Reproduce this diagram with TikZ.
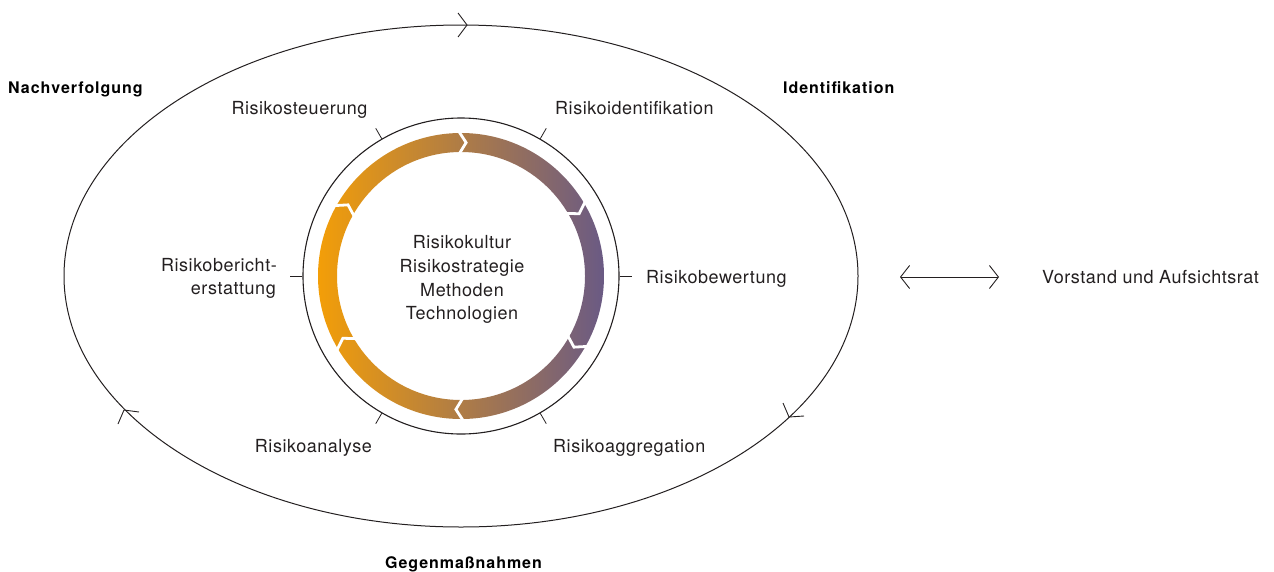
\documentclass[tikz,border=0pt]{standalone}
\usepackage{fontspec}
\usetikzlibrary{arrows.meta}
\setmainfont{TeX Gyre Heros}[LetterSpace=3]
\newfontfamily\boldlab{TeX Gyre Heros}[LetterSpace=6]
\definecolor{txt}{RGB}{35,31,32}
\definecolor{cL}{RGB}{243,158,8}
\definecolor{cM}{RGB}{170,118,104}
\definecolor{cR}{RGB}{106,90,132}
\begin{document}
\begin{tikzpicture}[x=1pt,y=-1pt,
  lbl/.style={font=\fontsize{18}{22}\selectfont, text=txt, inner sep=0pt},
  blbl/.style={font=\boldlab\bfseries\fontsize{16}{20}\selectfont, text=black, inner sep=0pt},
  tickline/.style={line width=0.8pt, draw=txt},
  barb/.style={line width=0.9pt, draw=txt, line join=miter},
  chev/.style={draw=white, line width=2.8pt, line join=miter}]
\useasboundingbox (0,0) rectangle (1274,571);
\coordinate (c) at (461,276);
% outer cycle
\draw[line width=1pt, draw=txt] (c) ellipse [x radius=397, y radius=251];
\draw[barb] (458,13) -- (467,25) -- (458,37);
\draw[barb] (139,412) -- (124,410) -- (118,424);
\draw[barb] (783,403) -- (789,417) -- (804,416);
% gradient ring
\shade[left color=cL, middle color=cM, right color=cR, even odd rule]
  (c) circle[radius=143] (c) circle[radius=124];
\begin{scope}[shift={(461,276)}]
\foreach \a in {-90,-30,30,90,150,210}
  \draw[chev] (\a-1.2:146) -- (\a+2.2:133.5) -- (\a-1.2:121);
\end{scope}
% black circle
\node[circle, draw=txt, line width=1.1pt, minimum size=316pt, inner sep=0pt] (ring) at (c) {};
\foreach \a in {0,60,...,300}
  \draw[tickline] (ring.\a) -- ++(\a:12pt);
% centre text
\node[lbl, anchor=base] (k1) at (462,248) {Risikokultur};
\node[lbl, anchor=base] (k2) at (462,272) {Risikostrategie};
\node[lbl, anchor=base] (k3) at (462,296) {Methoden};
\node[lbl, anchor=base] (k4) at (462,319) {Technologien};
% step labels
\node[lbl, anchor=base] (steu) at (299.5,114) {Risikosteuerung};
\node[lbl, anchor=base west] (ident) at (555,114) {Risikoidentifikation};
\node[lbl, anchor=base west] (bew) at (646,283) {Risikobewertung};
\node[lbl, anchor=base west] (aggr) at (553,452) {Risikoaggregation};
\node[lbl, anchor=base east] (anal) at (372,452) {Risikoanalyse};
\node[lbl, anchor=base east] (ber1) at (277,271) {Risikobericht-};
\node[lbl, anchor=base east] (ber2) at (276,294) {erstattung};
% phase labels
\node[blbl, anchor=base west] (nach) at (8,93) {Nachverfolgung};
\node[blbl, anchor=base west] (idf) at (783,93) {Identifikation};
\node[blbl, anchor=base west] (gegen) at (385,568) {Gegenmaßnahmen};
% board
\coordinate (da) at (900,277);
\coordinate (db) at (999,277);
\draw[line width=0.9pt, draw=txt, {Straight Barb[length=9pt,width=23pt]}-{Straight Barb[length=9pt,width=23pt]}] (da) -- (db);
\node[lbl, anchor=base west] (vor) at (1042,283) {Vorstand und Aufsichtsrat};
\end{tikzpicture}
\end{document}
